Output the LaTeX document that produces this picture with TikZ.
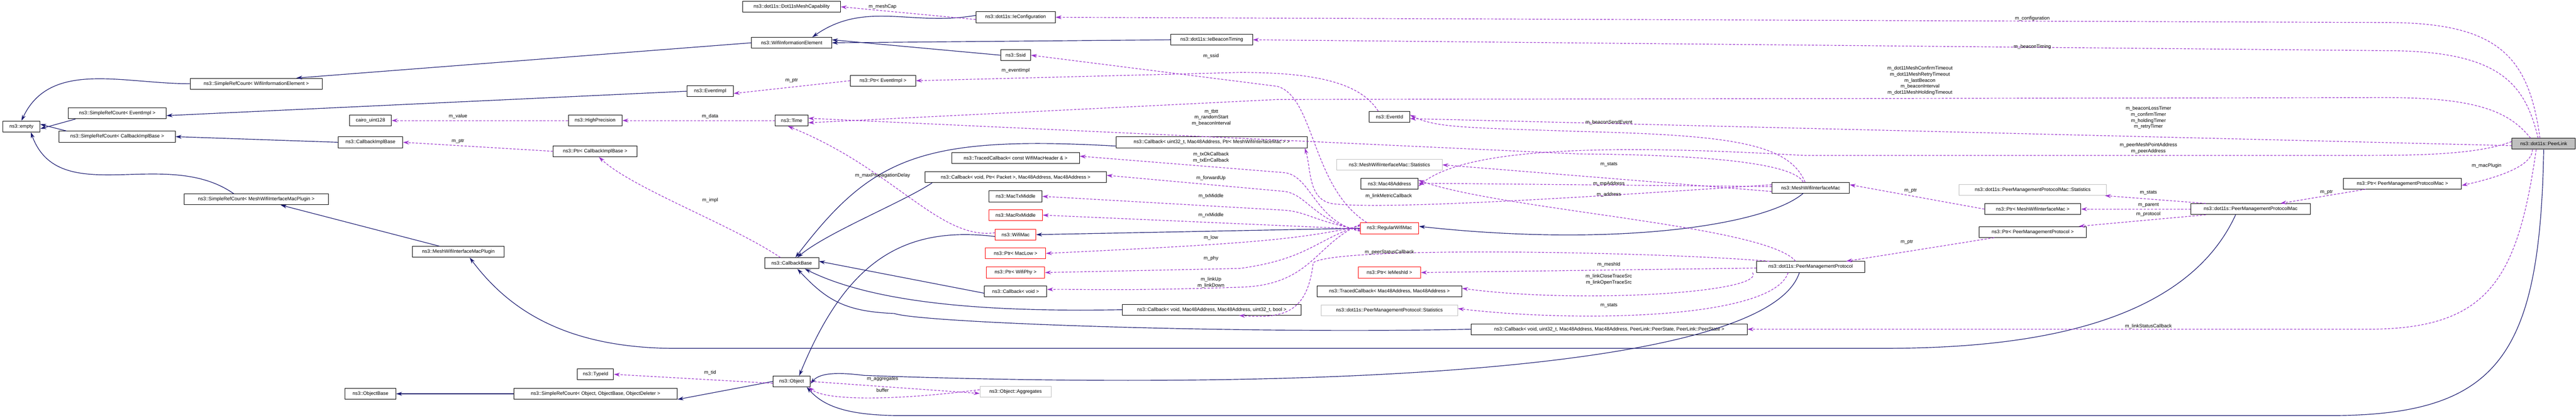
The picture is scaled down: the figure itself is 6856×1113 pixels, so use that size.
\documentclass[tikz,border=0pt]{standalone}
\usepackage{fontspec}
\setmainfont{Liberation Sans}
\usetikzlibrary{arrows.meta}
\definecolor{inhblue}{RGB}{25,25,112}
\definecolor{usepurple}{RGB}{154,50,205}
\definecolor{boxgray}{RGB}{191,191,191}

\begin{document}
\begin{tikzpicture}[x=1pt,y=-1pt,
  cls/.style={draw=black, line width=1.3pt, fill=white, minimum height=29pt, inner xsep=2pt, inner ysep=0pt, font=\fontsize{13}{15}\selectfont},
  redcls/.style={cls, draw=red},
  graycls/.style={cls, draw=boxgray},
  selfcls/.style={cls, fill=boxgray},
  lbl/.style={font=\fontsize{13}{16}\selectfont, align=center, inner sep=0pt},
  inh/.style={-{Stealth[length=16pt,width=10pt]}, draw=inhblue, line width=1.6pt},
  use/.style={-{Stealth[length=16pt,width=10pt]}, draw=usepurple, line width=1.6pt, dash pattern=on 6pt off 4pt}]
  \useasboundingbox (0,0) rectangle (6856,1113);

  % Nodes

  % base classes on the left
  \node[cls, minimum width=99pt]  (empty)   at (57,337)  {ns3::empty};
  \node[cls, minimum width=352pt] (srcwie)  at (682,223) {ns3::SimpleRefCount< WifiInformationElement >};
  \node[cls, minimum width=261pt] (srcev)   at (312,302) {ns3::SimpleRefCount< EventImpl >};
  \node[cls, minimum width=309pt] (srccb)   at (312,364) {ns3::SimpleRefCount< CallbackImplBase >};
  \node[cls, minimum width=383pt] (srcplug) at (682,531) {ns3::SimpleRefCount< MeshWifiInterfaceMacPlugin >};
  \node[cls, minimum width=111pt] (cairo)   at (986,321) {cairo\_uint128};
  \node[cls, minimum width=172pt] (cbimpl)  at (986,379) {ns3::CallbackImplBase};
  \node[cls, minimum width=135pt] (objbase) at (986,1049) {ns3::ObjectBase};
  \node[cls, minimum width=143pt] (hp)      at (1584,321) {ns3::HighPrecision};
  \node[cls, minimum width=223pt] (ptrcbimpl) at (1584,403) {ns3::Ptr< CallbackImplBase >};
  \node[cls, minimum width=244pt] (plugin)  at (1220,671) {ns3::MeshWifiInterfaceMacPlugin};
  \node[cls, minimum width=96pt]  (typeid)  at (1585,997) {ns3::TypeId};
  \node[cls, minimum width=435pt] (srcobj)  at (1585,1049) {ns3::SimpleRefCount< Object, ObjectBase, ObjectDeleter >};

  % second column
  \node[cls, minimum width=260pt] (meshcap) at (2107,18)  {ns3::dot11s::Dot11sMeshCapability};
  \node[cls, minimum width=213pt] (wie)     at (2107,114) {ns3::WifiInformationElement};
  \node[cls, minimum width=124pt] (evimpl)  at (1890,243) {ns3::EventImpl};
  \node[cls, minimum width=87pt]  (time)    at (2107,321) {ns3::Time};
  \node[cls, minimum width=144pt] (cbbase)  at (2107,701) {ns3::CallbackBase};
  \node[cls, minimum width=99pt]  (object)  at (2107,1016) {ns3::Object};
  \node[cls, minimum width=174pt] (ptrev)   at (2350,215) {ns3::Ptr< EventImpl >};

  % third column
  \node[cls, minimum width=211pt] (iecfg)   at (2703,46)  {ns3::dot11s::IeConfiguration};
  \node[cls, minimum width=80pt]  (ssid)    at (2703,147) {ns3::Ssid};
  \node[cls, minimum width=340pt] (tcbhdr)  at (2703,421) {ns3::TracedCallback< const WifiMacHeader \& >};
  \node[cls, minimum width=483pt] (cbfwd)   at (2703,472) {ns3::Callback< void, Ptr< Packet >, Mac48Address, Mac48Address >};
  \node[cls, minimum width=141pt] (txmid)   at (2703,523) {ns3::MacTxMiddle};
  \node[redcls, minimum width=143pt] (rxmid) at (2703,573) {ns3::MacRxMiddle};
  \node[redcls, minimum width=108pt] (wifimac) at (2703,625) {ns3::WifiMac};
  \node[redcls, minimum width=160pt] (ptrlow) at (2703,675) {ns3::Ptr< MacLow >};
  \node[redcls, minimum width=155pt] (ptrphy) at (2703,726) {ns3::Ptr< WifiPhy >};
  \node[cls, minimum width=166pt] (cbvoid)  at (2703,776) {ns3::Callback< void >};
  \node[graycls, minimum width=190pt] (aggr) at (2703,1043) {ns3::Object::Aggregates};
  \node[cls, minimum width=217pt] (iebt)    at (3225,106) {ns3::dot11s::IeBeaconTiming};
  \node[cls, minimum width=510pt] (cbmetric) at (3225,379) {ns3::Callback< uint32\_t, Mac48Address, Ptr< MeshWifiInterfaceMac > >};
  \node[cls, minimum width=476pt] (cbbool)  at (3225,825) {ns3::Callback< void, Mac48Address, Mac48Address, uint32\_t, bool >};

  % fourth column
  \node[cls, minimum width=108pt] (eventid) at (3698,311) {ns3::EventId};
  \node[graycls, minimum width=280pt] (mwimstats) at (3698,439) {ns3::MeshWifiInterfaceMac::Statistics};
  \node[cls, minimum width=153pt] (mac48)   at (3698,490) {ns3::Mac48Address};
  \node[redcls, minimum width=156pt] (regmac) at (3698,608) {ns3::RegularWifiMac};
  \node[redcls, minimum width=166pt] (ptrmeshid) at (3698,726) {ns3::Ptr< IeMeshId >};
  \node[cls, minimum width=385pt] (tcbpeer) at (3698,776) {ns3::TracedCallback< Mac48Address, Mac48Address >};
  \node[graycls, minimum width=363pt] (pmpstats) at (3698,827) {ns3::dot11s::PeerManagementProtocol::Statistics};
  \node[cls, minimum width=734pt] (cbstate) at (4283,877) {ns3::Callback< void, uint32\_t, Mac48Address, Mac48Address, PeerLink::PeerState, PeerLink::PeerState >};

  % right part
  \node[cls, minimum width=206pt] (mwim)    at (4819,500) {ns3::MeshWifiInterfaceMac};
  \node[cls, minimum width=288pt] (pmp)     at (4819,711) {ns3::dot11s::PeerManagementProtocol};
  \node[graycls, minimum width=393pt] (pmpmacstats) at (5410,506) {ns3::dot11s::PeerManagementProtocolMac::Statistics};
  \node[cls, minimum width=256pt] (ptrmwim) at (5410,557) {ns3::Ptr< MeshWifiInterfaceMac >};
  \node[cls, minimum width=284pt] (ptrpmp)  at (5410,618) {ns3::Ptr< PeerManagementProtocol >};
  \node[cls, minimum width=317pt] (pmpmac)  at (5990,557) {ns3::dot11s::PeerManagementProtocolMac};
  \node[cls, minimum width=314pt] (ptrpmpmac) at (6394,489) {ns3::Ptr< PeerManagementProtocolMac >};
  \node[selfcls, minimum width=169pt] (peerlink) at (6770,383) {ns3::dot11s::PeerLink};

  % Connect the nodes

  % inheritance
  \draw[inh] (srcwie.west) to[out=180,in=65] (empty.north);
  \draw[inh] ([xshift=20pt]srcev.south west) -- ([yshift=-6pt]empty.east);
  \draw[inh] ([xshift=20pt]srccb.north west) -- ([yshift=6pt]empty.east);
  \draw[inh] ([xshift=-60pt]srcplug.north) to[out=145,in=-70] ([xshift=25pt]empty.south);
  \draw[inh] (wie.west) -- ([xshift=-70pt]srcwie.north east);
  \draw[inh] (evimpl.west) -- ([yshift=-6pt]srcev.east);
  \draw[inh] (cbimpl.west) -- (srccb.east);
  \draw[inh] ([xshift=-50pt]plugin.north) -- ([xshift=65pt]srcplug.south);
  \draw[inh] ([yshift=5pt]iecfg.west) to[out=190,in=35] ([xshift=55pt]wie.north);
  \draw[inh] (iebt.west) -- (wie.east);
  \draw[inh] (ssid.west) -- ([yshift=8pt]wie.east);
  \draw[inh] (srcobj.west) -- (objbase.east);
  \draw[inh] (object.west) -- ([yshift=-15pt]srcobj.east);
  \draw[inh] ([yshift=-10pt]cbmetric.west) .. controls (2450,360) and (2320,420) .. ([xshift=10pt]cbbase.north);
  \draw[inh] ([xshift=20pt]cbfwd.south west) .. controls (2400,540) and (2200,620) .. ([xshift=15pt]cbbase.north);
  \draw[inh] ([yshift=-5pt]cbvoid.west) -- ([yshift=5pt]cbbase.east);
  \draw[inh] (cbbool.west) .. controls (2700,830) and (2350,820) .. ([xshift=35pt]cbbase.south);
  \draw[inh] (cbstate.west) .. controls (3300,890) and (2450,860) .. (2380,835) .. controls (2250,830) and (2200,800) .. ([xshift=15pt]cbbase.south);
  \draw[inh] ([yshift=-5pt]wifimac.west) .. controls (2400,600) and (2250,700) .. ([xshift=20pt]object.north);
  \draw[inh] (regmac.west) -- (wifimac.east);
  \draw[inh] ([xshift=-20pt]mwim.south) .. controls (4700,600) and (4300,660) .. ([yshift=5pt]regmac.east);
  \draw[inh] ([xshift=-30pt]pmp.south) .. controls (4700,1000) and (3400,1040) .. (2300,1000) .. controls (2220,990) and (2180,995) .. ([yshift=-6pt]object.east);
  \draw[inh] ([xshift=-40pt]pmpmac.south) .. controls (5800,900) and (5300,928) .. (5000,928) -- (1800,928) .. controls (1500,928) and (1350,820) .. ([xshift=30pt]plugin.south);
  \draw[inh] (peerlink.south) .. controls (6760,950) and (6650,1107) .. (6200,1107) -- (2400,1107) .. controls (2250,1107) and (2190,1080) .. ([xshift=-10pt]object.south east);

  % members
  \draw[use] ([yshift=-6pt]iecfg.west) -- (meshcap.east);
  \draw[use] ([xshift=-10pt]peerlink.north) .. controls (6730,150) and (6650,60) .. (6350,60) -- (iecfg.east);
  \draw[use] ([xshift=-15pt]peerlink.north) .. controls (6720,220) and (6650,135) .. (6350,135) -- (iebt.east);
  \draw[use] ([xshift=-35pt]peerlink.north) .. controls (6680,300) and (6600,260) .. (6350,260) -- (3400,265) -- ([yshift=-6pt]time.east);
  \draw[use] ([xshift=-60pt]regmac.north) .. controls (3490,500) and (3500,260) .. (3400,230) -- (ssid.east);
  \draw[use] ([xshift=-30pt]eventid.north) .. controls (3620,220) and (3500,193) .. (3300,193) -- (ptrev.east);
  \draw[use] (ptrev.west) -- ([yshift=-6pt]evimpl.east);
  \draw[use] (hp.west) -- (cairo.east);
  \draw[use] (time.west) -- (hp.east);
  \draw[use] (ptrcbimpl.west) -- (cbimpl.east);
  \draw[use] ([xshift=-30pt]cbbase.north) .. controls (1950,600) and (1680,500) .. ([xshift=10pt]ptrcbimpl.south);
  \draw[use] ([xshift=-20pt]mwim.north) .. controls (4770,430) and (4500,412) .. (4200,410) -- ([yshift=6pt]time.east);
  \draw[use] ([yshift=-5pt]peerlink.west) -- ([yshift=-5pt]eventid.east);
  \draw[use] ([xshift=-15pt]mwim.north) .. controls (4760,380) and (4600,360) .. (4200,350) .. controls (3900,340) and (3820,340) .. ([yshift=5pt]eventid.east);
  \draw[use] ([yshift=6pt]peerlink.west) .. controls (6600,410) and (6450,414) .. (6300,414) -- (4800,414) .. controls (4300,385) and (3900,390) .. ([yshift=-6pt]mac48.east);
  \draw[use] ([yshift=-10pt]mwim.west) -- (mwimstats.east);
  \draw[use] ([yshift=3pt]mwim.west) -- ([yshift=2pt]mac48.east);
  \draw[use] ([xshift=-40pt]pmp.north) .. controls (4700,600) and (4000,560) .. ([yshift=10pt]mac48.east);
  \draw[use] ([yshift=8pt]mwim.west) .. controls (4300,520) and (3700,560) .. (3550,543) .. controls (3480,535) and (3490,450) .. ([xshift=-8pt]cbmetric.south east);
  \draw[use] ([xshift=-110pt]pmp.north) .. controls (4400,670) and (3550,655) .. (3495,700) .. controls (3480,830) and (3420,850) .. ([xshift=-166pt]cbbool.south east);
  \draw[use] ([yshift=-3pt]pmp.west) -- (ptrmeshid.east);
  \draw[use] ([xshift=-10pt]pmp.south west) .. controls (4700,780) and (4200,810) .. ([yshift=8pt]tcbpeer.east);
  \draw[use] ([xshift=-60pt]pmp.south) .. controls (4720,850) and (4200,860) .. ([yshift=5pt]pmpstats.east);
  \draw[use] ([xshift=-20pt]peerlink.south) .. controls (6700,750) and (6620,877) .. (6300,877) -- (cbstate.east);
  \draw[use] ([xshift=-30pt]peerlink.south) .. controls (6740,440) and (6660,470) .. ([yshift=-5pt]ptrpmpmac.east);
  \draw[use] ([xshift=60pt]ptrpmpmac.south west) -- ([xshift=-80pt]pmpmac.north east);
  \draw[use] ([xshift=40pt]pmpmac.north west) -- ([xshift=-5pt]pmpmacstats.south east);
  \draw[use] (pmpmac.west) -- (ptrmwim.east);
  \draw[use] ([xshift=40pt]pmpmac.south west) -- ([xshift=-20pt]ptrpmp.north east);
  \draw[use] (ptrmwim.west) -- ([yshift=8pt]mwim.east);
  \draw[use] ([xshift=40pt]ptrpmp.south west) -- ([xshift=-50pt]pmp.north east);
  \draw[use] ([yshift=-8pt]regmac.west) .. controls (3500,590) and (3490,470) .. (3420,460) -- ([yshift=5pt]tcbhdr.east);
  \draw[use] ([yshift=-6pt]regmac.west) .. controls (3500,590) and (3480,520) .. (3420,510) -- ([yshift=5pt]cbfwd.east);
  \draw[use] ([yshift=-4pt]regmac.west) .. controls (3500,590) and (3480,565) .. (3420,560) -- (txmid.east);
  \draw[use] ([yshift=-2pt]regmac.west) -- (rxmid.east);
  \draw[use] ([yshift=6pt]regmac.west) .. controls (3450,640) and (3300,650) .. (ptrlow.east);
  \draw[use] ([yshift=8pt]regmac.west) .. controls (3500,640) and (3480,690) .. (3300,715) -- (ptrphy.east);
  \draw[use] ([yshift=10pt]regmac.west) .. controls (3500,650) and (3490,760) .. (3300,765) .. controls (3000,775) and (2900,770) .. ([yshift=5pt]cbvoid.east);
  \draw[use] ([yshift=5pt]wifimac.west) .. controls (2500,640) and (2380,450) .. ([xshift=-10pt]time.south);
  \draw[use] ([yshift=-5pt]object.west) -- (typeid.east);
  \draw[use] (object.east) -- ([yshift=-5pt]aggr.west);
  \draw[use] ([yshift=5pt]aggr.west) .. controls (2400,1065) and (2200,1070) .. ([xshift=-5pt]object.south east);

  % member labels
  \node[lbl] (lmeshcap) at (2349,18) {m\_meshCap};
  \node[lbl] (lcfg) at (5409,50) {m\_configuration};
  \node[lbl] (lbt) at (5409,125) {m\_beaconTiming};
  \node[lbl] (lssid) at (3223,150) {m\_ssid};
  \node[lbl] (levent) at (2703,188) {m\_eventImpl};
  \node[lbl] (lptrev) at (2107,214) {m\_ptr};
  \node[lbl] (ldata) at (1890,310) {m\_data};
  \node[lbl] (lvalue) at (1219,310) {m\_value};
  \node[lbl] (lptrcb) at (1219,376) {m\_ptr};
  \node[lbl] (ltbtt) at (3224,313) {m\_tbtt\\m\_randomStart\\m\_beaconInterval};
  \node[lbl] (ltimeout) at (5110,215) {m\_dot11MeshConfirmTimeout\\m\_dot11MeshRetryTimeout\\m\_lastBeacon\\m\_beaconInterval\\m\_dot11MeshHoldingTimeout};
  \node[lbl] (ltimer) at (5718,314) {m\_beaconLossTimer\\m\_confirmTimer\\m\_holdingTimer\\m\_retryTimer};
  \node[lbl] (lpeeraddr) at (5718,395) {m\_peerMeshPointAddress\\m\_peerAddress};
  \node[lbl] (lmacplug) at (6618,441) {m\_macPlugin};
  \node[lbl] (lptrpmpmac) at (6192,512) {m\_ptr};
  \node[lbl] (lstatsmac) at (5718,513) {m\_stats};
  \node[lbl] (lparent) at (5718,546) {m\_parent};
  \node[lbl] (lprotocol) at (5718,570) {m\_protocol};
  \node[lbl] (lptrmwim) at (5085,508) {m\_ptr};
  \node[lbl] (lptrpmp) at (5075,645) {m\_ptr};
  \node[lbl] (llinkstatus) at (5718,870) {m\_linkStatusCallback};
  \node[lbl] (lsend) at (4282,326) {m\_beaconSendEvent};
  \node[lbl] (lstatsmwim) at (4282,438) {m\_stats};
  \node[lbl] (lmpaddr) at (4282,489) {m\_mpAddress};
  \node[lbl] (laddr) at (4282,518) {m\_address};
  \node[lbl] (lmetric) at (3696,522) {m\_linkMetricCallback};
  \node[lbl] (lpeerstatus) at (3698,672) {m\_peerStatusCallback};
  \node[lbl] (lmeshid) at (4282,705) {m\_meshId};
  \node[lbl] (ltrace) at (4282,745) {m\_linkCloseTraceSrc\\m\_linkOpenTraceSrc};
  \node[lbl] (lstatspmp) at (4282,813) {m\_stats};
  \node[lbl] (ltxok) at (3223,420) {m\_txOkCallback\\m\_txErrCallback};
  \node[lbl] (lfwd) at (3223,474) {m\_forwardUp};
  \node[lbl] (ltxmid) at (3223,522) {m\_txMiddle};
  \node[lbl] (lrxmid) at (3223,573) {m\_rxMiddle};
  \node[lbl] (llow) at (3223,634) {m\_low};
  \node[lbl] (lphy) at (3223,688) {m\_phy};
  \node[lbl] (llink) at (3223,753) {m\_linkUp\\m\_linkDown};
  \node[lbl] (ldelay) at (2349,468) {m\_maxPropagationDelay};
  \node[lbl] (limpl) at (1890,534) {m\_impl};
  \node[lbl] (ltid) at (1890,993) {m\_tid};
  \node[lbl] (laggr) at (2349,1010) {m\_aggregates};
  \node[lbl] (lbuffer) at (2349,1040) {buffer};
\end{tikzpicture}
\end{document}
